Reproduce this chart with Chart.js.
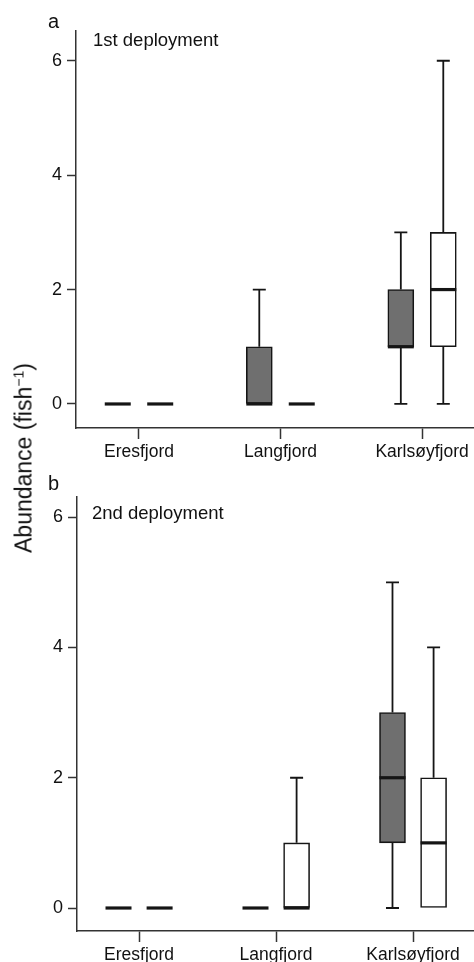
<!DOCTYPE html>
<html>
<head>
<meta charset="utf-8">
<script src="https://cdn.jsdelivr.net/npm/chart.js@4.4.1/dist/chart.umd.min.js"></script>
<style>
  html, body { margin: 0; padding: 0; background: #fff; }
  body { width: 474px; height: 962px; position: relative; overflow: hidden;
         font-family: 'Liberation Sans', Arial, sans-serif; color: #111; }
  canvas { position: absolute; left: 0; }
  .txt { position: absolute; line-height: 1; white-space: nowrap; }
  .panel { font-size: 20px; }
  .dep { font-size: 18.5px; }
  #ytitle { font-size: 23px; left: 24px; top: 458px; transform: translate(-50%, -50%) rotate(-90deg); }
  #ytitle span { font-size: 14px; position: relative; top: -0.6em; }
</style>
</head>
<body>
<canvas id="chartA" width="474" height="470" style="top:0"></canvas>
<canvas id="chartB" width="474" height="492" style="top:470px"></canvas>
<div class="txt panel" style="left:48px;top:11px">a</div>
<div class="txt dep" style="left:93px;top:31px">1st deployment</div>
<div class="txt panel" style="left:48px;top:473px">b</div>
<div class="txt dep" style="left:92px;top:504px">2nd deployment</div>
<div class="txt" id="ytitle">Abundance (fish<span>−1</span>)</div>
<script>
// === Données ===
const sites = ['Eresfjord', 'Langfjord', 'Karlsøyfjord'];
const yTicks = [0, 2, 4, 6];

// 1st deployment – grey boxes
const dep1GreyMin = [0, 0, 0];
const dep1GreyQ1  = [0, 0, 1];
const dep1GreyMed = [0, 0, 1];
const dep1GreyQ3  = [0, 1, 2];
const dep1GreyMax = [0, 2, 3];
// 1st deployment – white boxes
const dep1WhiteMin = [0, 0, 0];
const dep1WhiteQ1  = [0, 0, 1];
const dep1WhiteMed = [0, 0, 2];
const dep1WhiteQ3  = [0, 0, 3];
const dep1WhiteMax = [0, 0, 6];

// 2nd deployment – grey boxes
const dep2GreyMin = [0, 0, 0];
const dep2GreyQ1  = [0, 0, 1];
const dep2GreyMed = [0, 0, 2];
const dep2GreyQ3  = [0, 0, 3];
const dep2GreyMax = [0, 0, 5];
// 2nd deployment – white boxes
const dep2WhiteMin = [0, 0, 0];
const dep2WhiteQ1  = [0, 0, 0];
const dep2WhiteMed = [0, 0, 1];
const dep2WhiteQ3  = [0, 1, 2];
const dep2WhiteMax = [0, 2, 4];

Chart.defaults.font.family = "'Liberation Sans', Arial, sans-serif";
Chart.defaults.color = '#111';

const INK = '#151515';
const GROUP_SHIFT = 0.15;   // décalage des deux boîtes autour du site
const BOX_W = 26;
const CAP_W = 13;

// === Moustaches + médianes, dessinées via les échelles ===
const whiskerPlugin = {
  id: 'whiskers',
  afterDatasetsDraw(chart) {
    const ctx = chart.ctx;
    const xs = chart.scales.x, ys = chart.scales.y;
    ctx.save();
    ctx.strokeStyle = INK;
    chart.data.datasets.forEach(ds => {
      const st = ds.stats;
      ds.data.forEach((pt, i) => {
        const px = xs.getPixelForValue(pt.x);
        ctx.lineWidth = 1.8;
        ctx.lineCap = 'butt';
        if (st.max[i] > st.q3[i]) {
          const y0 = ys.getPixelForValue(st.q3[i]), y1 = ys.getPixelForValue(st.max[i]);
          ctx.beginPath();
          ctx.moveTo(px, y0); ctx.lineTo(px, y1);
          ctx.moveTo(px - CAP_W / 2, y1); ctx.lineTo(px + CAP_W / 2, y1);
          ctx.stroke();
        }
        if (st.min[i] < st.q1[i]) {
          const y0 = ys.getPixelForValue(st.q1[i]), y1 = ys.getPixelForValue(st.min[i]);
          ctx.beginPath();
          ctx.moveTo(px, y0); ctx.lineTo(px, y1);
          ctx.moveTo(px - CAP_W / 2, y1); ctx.lineTo(px + CAP_W / 2, y1);
          ctx.stroke();
        }
        const ym = ys.getPixelForValue(st.med[i]);
        ctx.lineWidth = 3.2;
        ctx.beginPath();
        ctx.moveTo(px - BOX_W / 2, ym); ctx.lineTo(px + BOX_W / 2, ym);
        ctx.stroke();
      });
    });
    ctx.restore();
  }
};

function boxDataset(shift, fill, min, q1, med, q3, max) {
  return {
    data: sites.map((s, i) => ({ x: i + 1 + shift, y: [q1[i], q3[i]] })),
    backgroundColor: fill,
    borderColor: INK,
    borderWidth: 1.6,
    borderSkipped: false,
    grouped: false,
    maxBarThickness: BOX_W,
    barPercentage: 1,
    categoryPercentage: 1,
    stats: { min, q1, med, q3, max }
  };
}

function makePanel(id, datasets, opt) {
  return new Chart(document.getElementById(id), {
    type: 'bar',
    data: { datasets },
    plugins: [whiskerPlugin],
    options: {
      responsive: false,
      devicePixelRatio: 1,
      animation: false,
      layout: { padding: { top: opt.padTop, right: 0, left: 0, bottom: 0 } },
      plugins: { legend: { display: false }, tooltip: { enabled: false } },
      scales: {
        x: {
          type: 'linear',
          offset: false,
          min: opt.xMin, max: opt.xMax,
          afterBuildTicks: s => { s.ticks = sites.map((n, i) => ({ value: i + 1 })); },
          afterFit: s => { s.height = opt.xHeight; },
          border: { color: '#333', width: 1.5 },
          grid: { offset: false, drawOnChartArea: false, tickLength: 11, tickColor: '#333', tickWidth: 1.5 },
          ticks: { callback: v => sites[v - 1], font: { size: 17.5 }, padding: 3, maxRotation: 0, autoSkip: false }
        },
        y: {
          min: opt.yMin, max: opt.yMax,
          afterBuildTicks: s => { s.ticks = yTicks.map(v => ({ value: v })); },
          afterFit: s => { s.width = opt.yWidth; },
          border: { color: '#333', width: 1.5 },
          grid: { drawOnChartArea: false, tickLength: 9, tickColor: '#333', tickWidth: 1.5 },
          ticks: { font: { size: 18 }, padding: 5 }
        }
      }
    }
  });
}

makePanel('chartA', [
  boxDataset(-GROUP_SHIFT, '#6f6f6f', dep1GreyMin, dep1GreyQ1, dep1GreyMed, dep1GreyQ3, dep1GreyMax),
  boxDataset(GROUP_SHIFT, '#ffffff', dep1WhiteMin, dep1WhiteQ1, dep1WhiteMed, dep1WhiteQ3, dep1WhiteMax)
], { padTop: 31, xHeight: 42, yWidth: 76, xMin: 0.555, xMax: 3.367, yMin: -0.42, yMax: 6.52 });

makePanel('chartB', [
  boxDataset(-GROUP_SHIFT, '#6f6f6f', dep2GreyMin, dep2GreyQ1, dep2GreyMed, dep2GreyQ3, dep2GreyMax),
  boxDataset(GROUP_SHIFT, '#ffffff', dep2WhiteMin, dep2WhiteQ1, dep2WhiteMed, dep2WhiteQ3, dep2WhiteMax)
], { padTop: 27, xHeight: 31, yWidth: 77, xMin: 0.547, xMax: 3.445, yMin: -0.353, yMax: 6.31 });
</script>
</body>
</html>
